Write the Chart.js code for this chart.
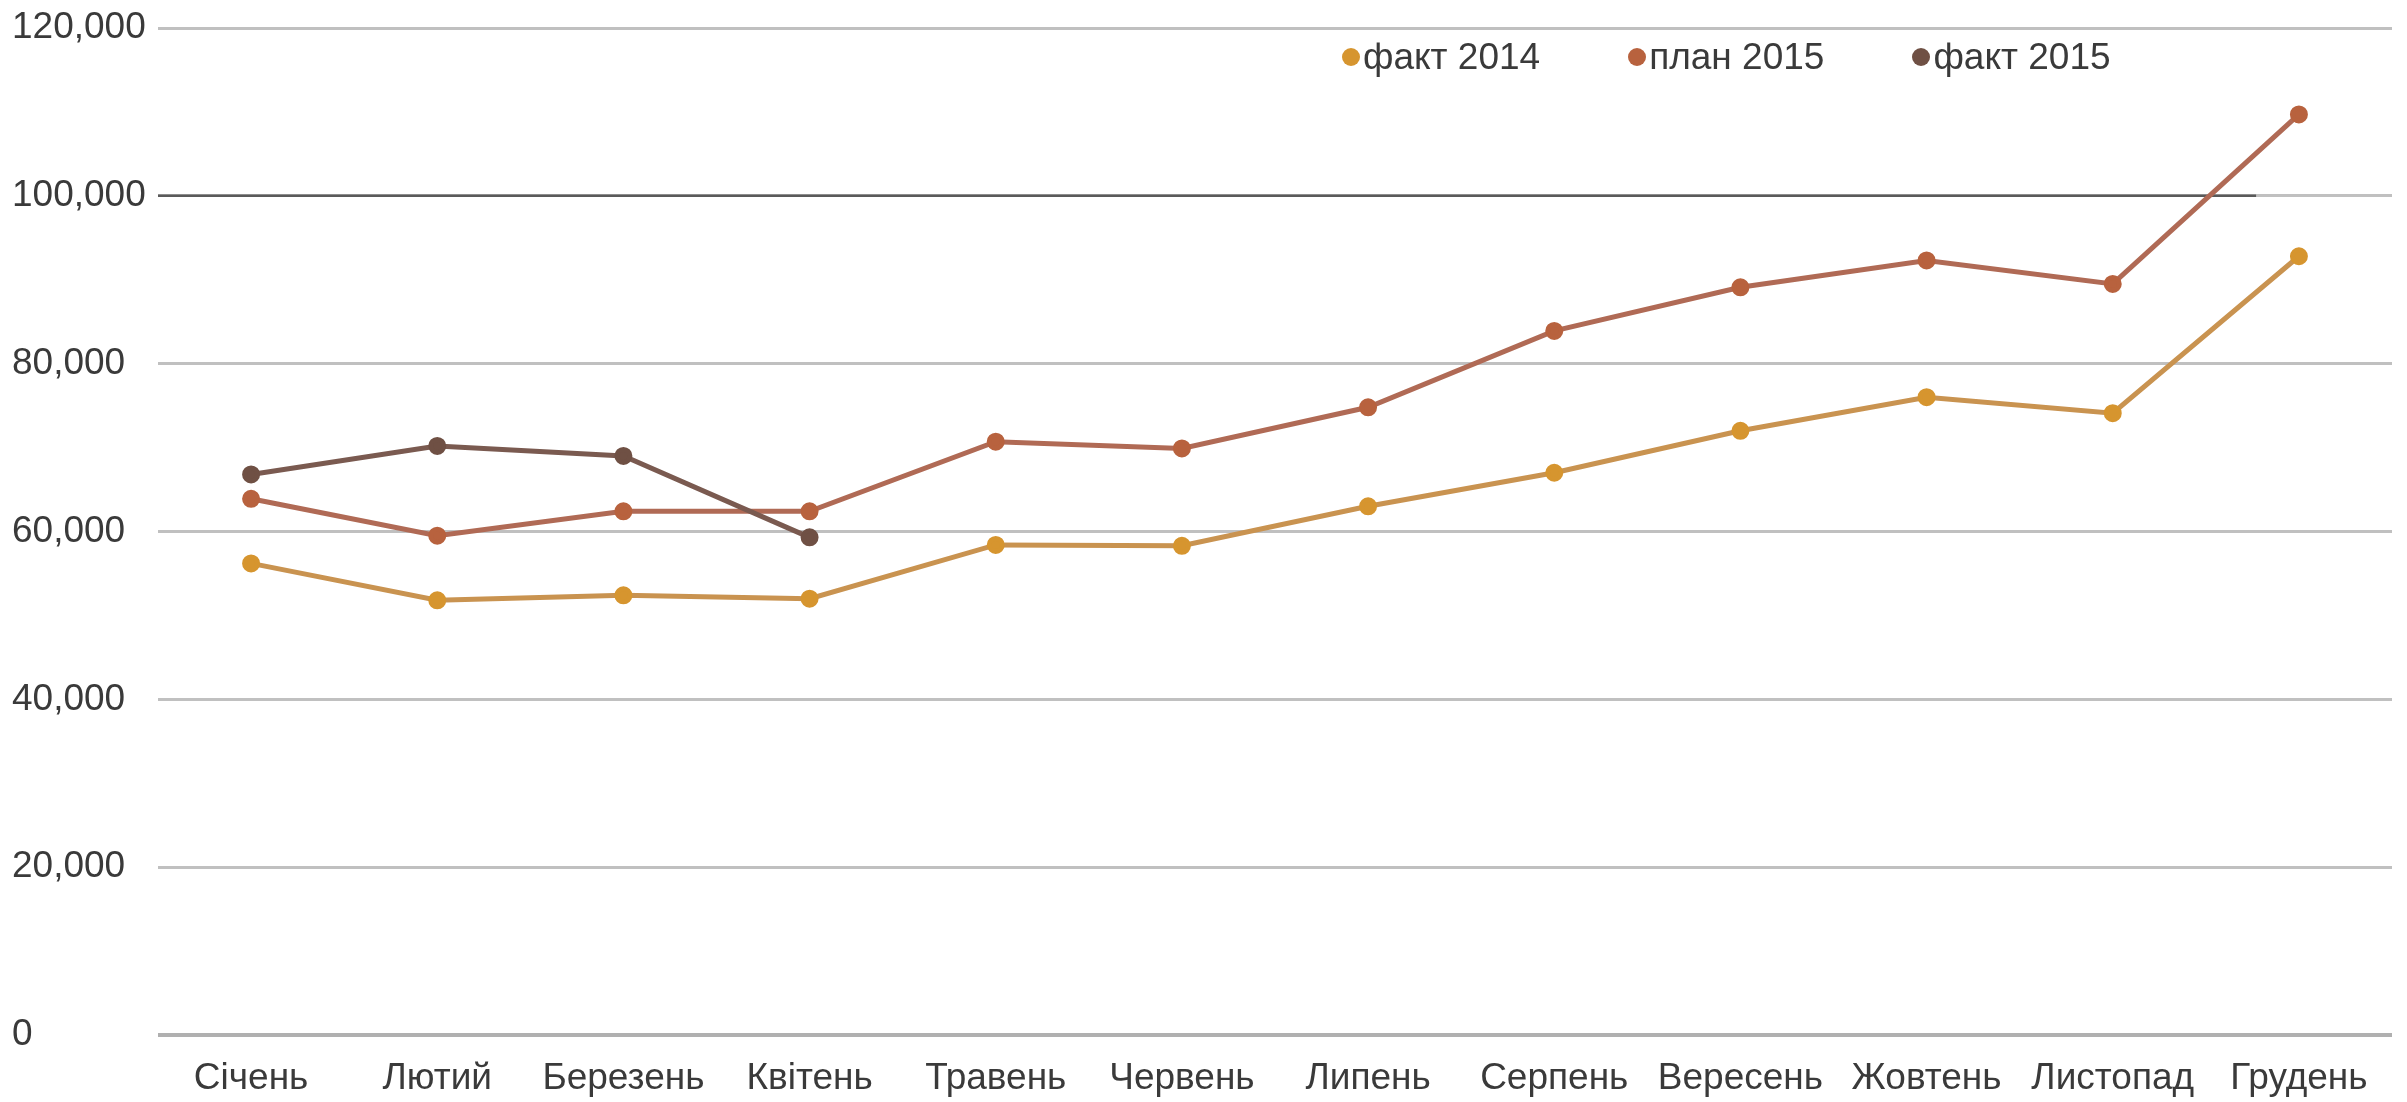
<!DOCTYPE html>
<html>
<head>
<meta charset="utf-8">
<script src="https://cdn.jsdelivr.net/npm/chart.js@4.4.1/dist/chart.umd.min.js"></script>
<style>
  body { margin: 0; background: #fff; }
  #wrap { position: relative; width: 2407px; height: 1102px; }
  #legend { position: absolute; top: 36px; left: 1342px; display: flex; align-items: center;
    font-family: "Liberation Sans", Arial, sans-serif; font-size: 37px; color: #3a3a3a; }
  .item { display: flex; align-items: center; margin-right: 88px; }
  .dot { width: 18px; height: 18px; border-radius: 50%; margin-right: 3px; }
</style>
</head>
<body>
<div id="wrap">
  <canvas id="chart" width="2407" height="1102"></canvas>
  <div id="legend"></div>
</div>
<script>
const months = ["Січень", "Лютий", "Березень", "Квітень", "Травень", "Червень", "Липень", "Серпень", "Вересень", "Жовтень", "Листопад", "Грудень"];
const fact2014 = [56200, 51800, 52400, 52000, 58400, 58300, 63000, 67000, 72000, 76000, 74100, 92800];
const plan2015 = [63900, 59500, 62400, 62400, 70700, 69900, 74800, 83900, 89100, 92300, 89500, 109700];
const fact2015 = [66800, 70200, 69000, 59300];
const seriesNames = ["факт 2014", "план 2015", "факт 2015"];
const lineColors = ["#c99350", "#b06a55", "#7a5a50"];
const dotColors = ["#d6952f", "#b8623e", "#6f5044"];

const font = "'Liberation Sans', Arial, sans-serif";

// темна лінія 100 000 (обривається біля Листопада)
const darkLine = {
  id: "darkLine",
  beforeDatasetsDraw(chart) {
    const { ctx, chartArea, scales } = chart;
    const y = scales.y.getPixelForValue(100000);
    ctx.save();
    ctx.strokeStyle = "#5a5a5a";
    ctx.lineWidth = 2.5;
    ctx.beginPath();
    ctx.moveTo(chartArea.left, y);
    ctx.lineTo(scales.x.getPixelForValue(10.77), y);
    ctx.stroke();
    ctx.restore();
  }
};

const datasets = [fact2014, plan2015, fact2015].map((data, i) => ({
  label: seriesNames[i],
  data: data,
  borderColor: lineColors[i],
  backgroundColor: dotColors[i],
  pointBackgroundColor: dotColors[i],
  pointBorderColor: dotColors[i],
  borderWidth: 5,
  pointRadius: 6.5,
  tension: 0,
  order: 3 - i
}));

new Chart(document.getElementById("chart"), {
  type: "line",
  data: { labels: months, datasets: datasets },
  options: {
    responsive: false,
    animation: false,
    layout: { padding: { top: 28, left: 12, right: 15, bottom: 0 } },
    plugins: { legend: { display: false }, tooltip: { enabled: false } },
    scales: {
      x: {
        offset: true,
        grid: { display: false },
        border: { display: false },
        ticks: { font: { family: font, size: 37 }, color: "#3a3a3a", padding: 14, maxRotation: 0, autoSkip: false },
        afterFit: (scale) => { scale.height = 67; }
      },
      y: {
        min: 0,
        max: 120000,
        border: { display: false },
        grid: {
          drawTicks: false,
          color: (c) => c.tick.value === 0 ? "#b0b0b0" : "#c0c0c0",
          lineWidth: (c) => c.tick.value === 0 ? 4 : 3
        },
        ticks: {
          stepSize: 20000,
          crossAlign: "far",
          font: { family: font, size: 37 },
          color: "#3a3a3a",
          callback: (v) => v.toLocaleString("en-US")
        },
        afterFit: (scale) => { scale.width = 146; }
      }
    }
  },
  plugins: [darkLine]
});

const legend = document.getElementById("legend");
seriesNames.forEach((name, i) => {
  const item = document.createElement("div");
  item.className = "item";
  item.innerHTML = `<span class="dot" style="background:${dotColors[i]}"></span><span>${name}</span>`;
  legend.appendChild(item);
});
</script>
</body>
</html>
